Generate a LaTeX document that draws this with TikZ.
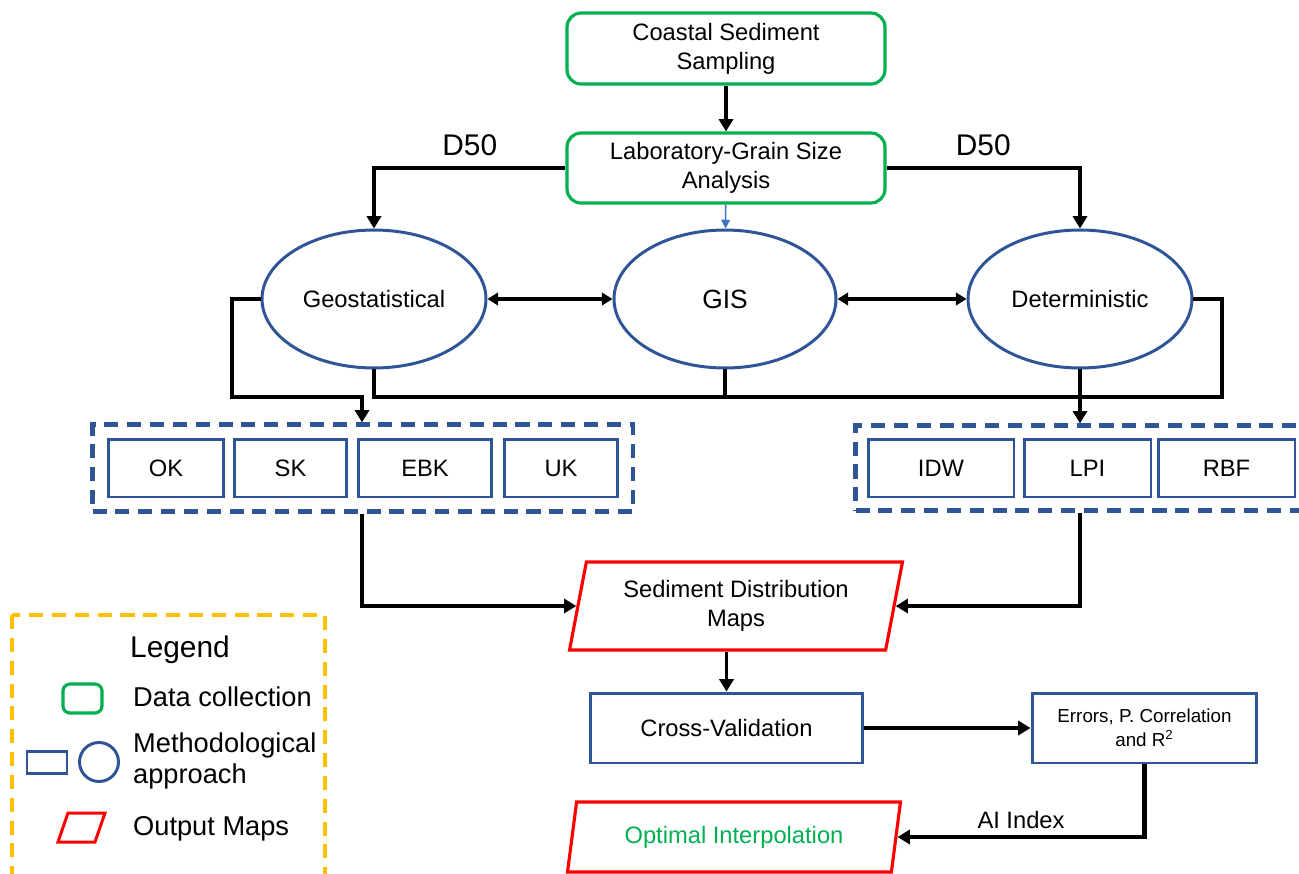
\documentclass[tikz,border=0pt]{standalone}
\usepackage{fontspec}
\setmainfont{Liberation Sans}
\usetikzlibrary{shapes.geometric,arrows.meta,fit}
\definecolor{datagreen}{RGB}{0,176,80}
\definecolor{methblue}{RGB}{47,85,151}
\definecolor{outred}{RGB}{255,0,0}
\definecolor{legorange}{RGB}{255,192,0}
\definecolor{linkblue}{RGB}{68,114,196}

\begin{document}
\begin{tikzpicture}[x=0.02cm,y=-0.02cm,
    txt/.style={font=\fontsize{13.5}{16.5}\selectfont,align=center},
    databox/.style={txt,draw=datagreen,line width=1.8pt,rounded corners=0.28cm,minimum width=6.36cm,minimum height=1.42cm},
    approach/.style={txt,ellipse,draw=methblue,line width=1.7pt,minimum width=4.48cm,minimum height=2.76cm,inner sep=0pt},
    algo/.style={txt,draw=methblue,line width=1.7pt,minimum height=1.16cm},
    algogrp/.style={draw=methblue,line width=2.4pt,dash pattern=on 8pt off 5pt},
    outmap/.style={txt,trapezium,trapezium left angle=75,trapezium right angle=105,trapezium stretches body,draw=outred,line width=1.8pt,minimum height=1.76cm,minimum width=6.66cm},
    flow/.style={line width=2.7pt,-{Triangle[length=7pt,width=8pt]}},
    link/.style={line width=2.2pt},
    legtxt/.style={font=\fontsize{15.5}{17.5}\selectfont,align=left,anchor=west}
    ]
        \useasboundingbox (0,0) rectangle (1299,873);

        % data collection
        \node[databox] (samp) at (726,48.5) {Coastal Sediment\\Sampling};
        \node[databox,minimum height=1.40cm] (lab) at (726,168) {Laboratory-Grain Size\\Analysis};

        % approaches
        \node[approach] (geo) at (374,299) {Geostatistical};
        \node[approach,minimum width=4.44cm,font=\fontsize{15}{18}\selectfont] (gis) at (725,299) {GIS};
        \node[approach] (det) at (1080,299) {Deterministic};

        % interpolation methods
        \node[algo,minimum width=2.32cm] (ok) at (166,468) {OK};
        \node[algo,minimum width=2.26cm] (sk) at (290.5,468) {SK};
        \node[algo,minimum width=2.68cm] (ebk) at (425,468) {EBK};
        \node[algo,minimum width=2.26cm] (uk) at (561,468) {UK};
        \node[algo,minimum width=2.92cm] (idw) at (941,468) {IDW};
        \node[algo,minimum width=2.54cm] (lpi) at (1087.5,468) {LPI};
        \node[algo,minimum width=2.74cm] (rbf) at (1226.5,468) {RBF};
        \node[algogrp,fit=(ok)(uk),inner xsep=0.28cm,inner ysep=0.26cm] (geogrp) {};
        \node[algogrp,fit=(idw)(rbf),inner xsep=0.22cm,inner ysep=0.24cm] (detgrp) {};

        % outputs
        \node[outmap] (sed) at (736,606) {Sediment Distribution\\Maps};
        \node[algo,minimum width=5.46cm,minimum height=1.4cm] (cv) at (726.5,728) {Cross-Validation};
        \node[algo,minimum width=4.5cm,minimum height=1.4cm,font=\fontsize{10.7}{13.7}\selectfont] (err) at (1144.5,728) {Errors, P. Correlation\\and R\textsuperscript{2}};
        \node[outmap,minimum height=1.4cm,text=datagreen] (opt) at (734,837) {Optimal Interpolation};

        % connectors
        \draw[flow] (samp) -- (lab);
        \draw[linkblue,line width=0.9pt,-{Triangle[length=5pt,width=5pt]}] (lab) -- (gis);
        \draw[flow] (lab.west) -| node[pos=0.25,above,yshift=2pt,font=\fontsize{17}{20}\selectfont] {D50} (geo.north);
        \draw[flow] (lab.east) -| node[pos=0.25,above,yshift=2pt,font=\fontsize{17}{20}\selectfont] {D50} (det.north);
        \draw[link,{Triangle[length=6pt,width=7pt]}-{Triangle[length=6pt,width=7pt]}] (geo) -- (gis);
        \draw[link,{Triangle[length=6pt,width=7pt]}-{Triangle[length=6pt,width=7pt]}] (gis) -- (det);

        \coordinate (jl) at (362,397);
        \draw[flow,line width=2.2pt] (geo.west) -| (232,397) -- (jl) -- (jl |- geogrp.north);
        \draw[link] (geo.south) |- (1222,397) |- (det.east);
        \draw[link] (gis.south) -- (gis.south |- jl);
        \draw[flow,line width=2.2pt] (det.south) -- (det.south |- detgrp.north);

        \draw[flow] (jl |- geogrp.south) |- (sed.west);
        \draw[flow] (det.south |- detgrp.south) |- (sed.east);
        \draw[flow,line width=2.2pt] (cv.north |- sed.south) -- (cv.north);
        \draw[flow] (cv.east) -- (err.west);
        \draw[flow] (err.south) |- node[pos=0.75,above,txt] {AI Index} (opt.east);

        % legend
        \draw[legorange,line width=2pt,dash pattern=on 8pt off 5pt] (12,615) rectangle (325,900);
        \node[font=\fontsize{17}{20}\selectfont] (legtitle) at (180,650) {Legend};
        \draw[datagreen,line width=1.8pt,rounded corners=4pt] (63,684) rectangle (102,713);
        \node[legtxt] (legdata) at (127,697) {Data collection};
        \draw[methblue,line width=1.7pt] (27,751) rectangle (67,773);
        \draw[methblue,line width=1.7pt] (99,762) circle [radius=0.39cm];
        \node[legtxt] (legmeth) at (127,761) {Methodological\\approach};
        \draw[outred,line width=1.7pt] (58,842) -- (68,813) -- (105,813) -- (95,842) -- cycle;
        \node[legtxt] (legout) at (127,829) {Output Maps};
    \end{tikzpicture}
\end{document}
